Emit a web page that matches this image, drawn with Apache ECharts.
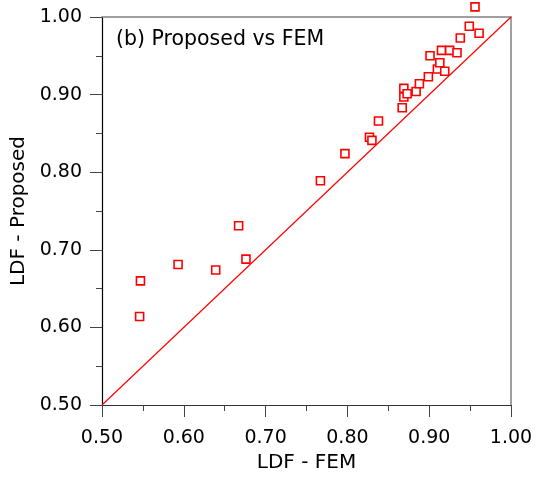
<!DOCTYPE html>
<html>
<head>
<meta charset="utf-8">
<script src="https://cdn.jsdelivr.net/npm/echarts@6/dist/echarts.min.js"></script>
<style>
  html, body { margin: 0; padding: 0; background: #fff; }
  #chart { width: 545px; height: 478px; }
</style>
</head>
<body>
<div id="chart"></div>
<script>
// Limit design factor: FEM reference vs proposed method
const ldfFem = [0.546, 0.547, 0.593, 0.639, 0.667, 0.676, 0.767, 0.797, 0.827, 0.830,
                0.838, 0.867, 0.869, 0.869, 0.873, 0.884, 0.888, 0.899, 0.901, 0.910,
                0.913, 0.915, 0.919, 0.925, 0.934, 0.938, 0.949, 0.956, 0.961];
const ldfProposed = [0.614, 0.660, 0.681, 0.674, 0.731, 0.688, 0.789, 0.824, 0.845, 0.841,
                     0.866, 0.883, 0.908, 0.897, 0.901, 0.904, 0.914, 0.923, 0.950, 0.933,
                     0.941, 0.957, 0.930, 0.957, 0.954, 0.973, 0.988, 1.013, 0.979];
// 1:1 equality line
const equalityLine = [[0.5, 0.5], [1.0, 1.0]];
const axisMin = 0.5, axisMax = 1.0, axisStep = 0.1;
const panelTitle = '(b) Proposed vs FEM';
const xTitle = 'LDF - FEM';
const yTitle = 'LDF - Proposed';

const FONT = 'DejaVu Sans';
const points = ldfFem.map((x, i) => [x, ldfProposed[i]]);

const chart = echarts.init(document.getElementById('chart'), null, { renderer: 'canvas' });

const mainAxis = (isX) => ({
  type: 'value',
  min: axisMin,
  max: axisMax,
  interval: axisStep,
  name: isX ? xTitle : yTitle,
  nameLocation: 'middle',
  nameGap: isX ? 45 : 71,
  nameTextStyle: { fontFamily: FONT, fontSize: 20, color: '#000' },
  axisLine: { show: true, onZero: false, lineStyle: { color: isX ? '#333' : '#000', width: 1.2 } },
  axisTick: { show: true, inside: false, length: 12, lineStyle: { color: '#444', width: 1 } },
  minorTick: { show: true, splitNumber: 2, length: 6, lineStyle: { color: '#444', width: 1 } },
  splitLine: { show: false },
  axisLabel: {
    fontFamily: FONT, fontSize: 19, color: '#000',
    margin: isX ? 24 : 20,
    formatter: (v) => v.toFixed(2)
  }
});

const frameAxis = (pos) => ({
  type: 'value',
  position: pos,
  min: axisMin,
  max: axisMax,
  axisLine: { show: true, onZero: false, lineStyle: { color: '#808080', width: 1.5 } },
  axisTick: { show: false },
  axisLabel: { show: false },
  splitLine: { show: false }
});

chart.setOption({
  backgroundColor: '#fff',
  animation: false,
  grid: { left: 102, right: 34, top: 17, bottom: 73, containLabel: false },
  xAxis: [mainAxis(true), frameAxis('top')],
  yAxis: [mainAxis(false), frameAxis('right')],
  graphic: [{
    type: 'text',
    left: 116,
    top: 29,
    style: { text: panelTitle, fontFamily: FONT, fontSize: 20.5, fill: '#000' }
  }],
  series: [
    {
      type: 'line',
      data: equalityLine,
      symbol: 'none',
      lineStyle: { color: '#ff0000', width: 1.2 },
      z: 2
    },
    {
      type: 'scatter',
      data: points,
      symbol: 'rect',
      symbolSize: 8,
      clip: false,
      itemStyle: { color: '#fff', borderColor: '#ff0000', borderWidth: 1.6, opacity: 1 },
      z: 3
    }
  ]
});
</script>
</body>
</html>
